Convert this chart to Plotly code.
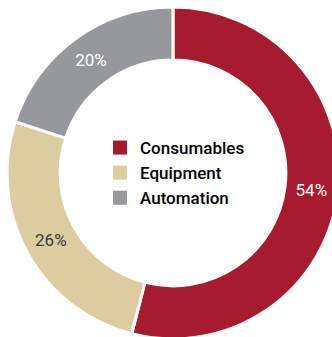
import plotly.graph_objects as go

categories = ["Consumables", "Equipment", "Automation"]
values = [54, 26, 20]
colors = ["#A71B2F", "#DCCC9F", "#97989C"]
label_colors = ["#FFFFFF", "#3A3A3A", "#FFFFFF"]

W, H = 346, 340
R = 166
cx, cy = 173, 173

fig = go.Figure()
fig.add_trace(go.Pie(
    labels=categories, values=values, sort=False, direction="clockwise", rotation=0,
    hole=0.68,
    marker=dict(colors=colors, line=dict(color="white", width=3)),
    textinfo="percent", textposition="inside", insidetextorientation="horizontal",
    textfont=dict(family="Roboto", size=17, color=label_colors),
    showlegend=False,
    domain=dict(x=[0, 1], y=[1 - (cy + R) / H, 1 - (cy - R) / H]),
    hoverinfo="skip",
))
for name, col in zip(categories, colors):
    fig.add_trace(go.Scatter(
        x=[None], y=[None], mode="markers", name=name,
        marker=dict(symbol="square", size=14, color=col),
        showlegend=True,
    ))

fig.update_layout(
    width=W, height=H,
    margin=dict(l=0, r=0, t=0, b=0),
    paper_bgcolor="white", plot_bgcolor="white",
    xaxis=dict(visible=False), yaxis=dict(visible=False),
    legend=dict(x=100 / W, xanchor="left", y=1 - 130 / H, yanchor="top",
                font=dict(family="Roboto", size=17, color="#000000", weight=500),
                bgcolor="rgba(0,0,0,0)", itemclick=False),
)

fig.write_html("out.html", post_script="document.documentElement.style.overflow='hidden';document.body.style.overflow='hidden';")
